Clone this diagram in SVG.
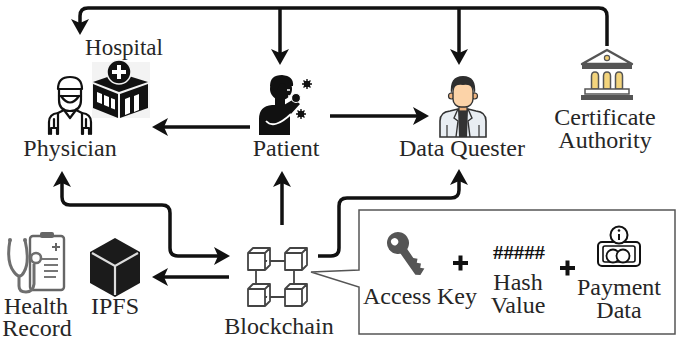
<svg xmlns="http://www.w3.org/2000/svg" width="677" height="340" viewBox="0 0 677 340">
  <defs>
    <marker id="head" viewBox="0 0 16 18" refX="8" refY="9" markerWidth="16" markerHeight="18" markerUnits="userSpaceOnUse" orient="auto-start-reverse">
      <path d="M0,0 L16,9 L0,18 L4,9 Z" fill="#111"/>
    </marker>
  </defs>
  <rect width="677" height="340" fill="#fff"/>

  <!-- connectors -->
  <g id="connectors" fill="none" stroke="#111" stroke-width="3.5" stroke-linejoin="round">
    <!-- certificate authority bus -->
    <path d="M607,46 V16 Q607,8 599,8 H88 Q80,8 80,16 V27" marker-end="url(#head)"/>
    <path d="M280,8 V57" marker-end="url(#head)"/>
    <path d="M459,8 V57" marker-end="url(#head)"/>
    <!-- patient outputs -->
    <path d="M250,127 H160" marker-end="url(#head)"/>
    <path d="M330,116 H421" marker-end="url(#head)"/>
    <!-- blockchain links -->
    <path d="M62,179 V197 Q62,205 70,205 H162 Q170,205 170,213 V248 Q170,256 178,256 H222" marker-start="url(#head)" marker-end="url(#head)"/>
    <path d="M229,277 H160" marker-end="url(#head)"/>
    <path d="M282,225 V179" marker-end="url(#head)"/>
    <path d="M318,256 H331 Q339,256 339,248 V206 Q339,198 347,198 H451 Q459,198 459,190 V177" marker-end="url(#head)"/>
  </g>

  <!-- callout with the stored transaction data -->
  <g id="callout">
    <path d="M359,210 H675 V334 H359 V287 L311,272 L359,270 Z" fill="#fff" stroke="#555" stroke-width="1.5"/>
  </g>

  <!-- hospital -->
  <g id="hospital">
    <rect x="92" y="62" width="58" height="56" fill="#f3f3f3"/>
    <path d="M93,82 L119,73 L148,82 L119,92 Z" fill="#111"/>
    <path d="M93,84 L118,94 V118 L93,108 Z" fill="#111"/>
    <path d="M120,94 L148,84 V108 L120,118 Z" fill="#111"/>
    <path d="M97,92 l5,2 v10 l-5,-2 Z M104,95 l5,2 v10 l-5,-2 Z M111,98 l4,1.5 v10 l-4,-1.5 Z" fill="#fff"/>
    <path d="M125,99 l5,-2 v16 l-5,2 Z M134,96 l5,-2 v16 l-5,2 Z" fill="#fff"/>
    <circle cx="119" cy="72" r="12" fill="#111" stroke="#f3f3f3" stroke-width="1.5"/>
    <path d="M119,65 V79 M112,72 H126" stroke="#fff" stroke-width="4"/>
    <text x="124" y="55" font-family="'Liberation Serif', serif" font-size="23" fill="#262626" text-anchor="middle">Hospital</text>
  </g>

  <!-- physician -->
  <g id="physician">
    <g fill="none" stroke="#111" stroke-width="2.2" stroke-linecap="round" stroke-linejoin="round">
      <path d="M58,89 Q58,77 70,77 Q82,77 82,89 Z"/>
      <path d="M59,89 V100 Q59,111 70,111 Q81,111 81,100 V89"/>
      <path d="M59,96 H81 M61,96 Q70,109 79,96"/>
      <path d="M49,134 V122 Q49,114 58,113 L64,110 M76,110 L82,113 Q91,114 91,122 V134"/>
      <path d="M64,110 L70,118 L76,110 M58,113 V134 M82,113 V134"/>
      <path d="M54,119 V127 M51,134 V128 H57 V134 M86,119 V127 M83,134 V128 H89 V134"/>
    </g>
    <text x="70" y="156" font-family="'Liberation Serif', serif" font-size="24" fill="#262626" text-anchor="middle">Physician</text>
  </g>

  <!-- patient -->
  <g id="patient">
    <circle cx="281" cy="89" r="11" fill="#111"/>
    <path d="M270,86 Q270,75 282,75 Q294,76 293,86 L286,86 Q284,82 280,84 L276,92 Z" fill="#111"/>
    <path d="M287,90 h3 M288,96 h3" stroke="#fff" stroke-width="1.3"/>
    <rect x="275" y="97" width="10" height="10" fill="#111"/>
    <path d="M259,135 V119 Q259,106 272,105 H284 L294,99 L300,104 L290,115 V135 Z" fill="#111"/>
    <path d="M266,121 Q274,130 291,114" fill="none" stroke="#fff" stroke-width="1.8"/>
    <circle cx="296" cy="98" r="4.5" fill="#111" stroke="#fff" stroke-width="1.2"/>
    <g fill="#111" stroke="#111" stroke-width="1.4">
      <circle cx="307" cy="84" r="2.6"/>
      <path d="M307,79 V89 M302,84 H312 M303.5,80.5 L310.5,87.5 M310.5,80.5 L303.5,87.5"/>
      <circle cx="301" cy="114" r="2.6"/>
      <path d="M301,109 V119 M296,114 H306 M297.5,110.5 L304.5,117.5 M304.5,110.5 L297.5,117.5"/>
    </g>
    <text x="286" y="156" font-family="'Liberation Serif', serif" font-size="24" fill="#262626" text-anchor="middle">Patient</text>
  </g>

  <!-- data quester -->
  <g id="data-quester">
    <path d="M440,137 V121 Q440,112 450,111 L458,109 H468 L476,111 Q486,112 486,121 V137 Z" fill="#e8edf2" stroke="#333" stroke-width="1.6"/>
    <path d="M458,109 H468 L467,137 H459 Z" fill="#333"/>
    <path d="M458,109 L454,118 L458,121 L456,137 M468,109 L472,118 L468,121 L470,137" fill="none" stroke="#333" stroke-width="1.4"/>
    <path d="M447,125 V137 M479,125 V137" stroke="#333" stroke-width="1.2"/>
    <rect x="459" y="103" width="8" height="8" fill="#efb47f" stroke="#333" stroke-width="1.2"/>
    <circle cx="451.5" cy="96" r="3" fill="#efb47f" stroke="#333" stroke-width="1.2"/>
    <circle cx="474.5" cy="96" r="3" fill="#efb47f" stroke="#333" stroke-width="1.2"/>
    <rect x="453" y="83" width="20" height="24" rx="8" fill="#fcd3a8" stroke="#333" stroke-width="1.4"/>
    <path d="M451,94 Q449,76 463,76 Q477,76 475,94 L473,88 Q470,84 463,85 Q456,84 453,88 Z" fill="#2e2e2e"/>
    <text x="462" y="156" font-family="'Liberation Serif', serif" font-size="24" fill="#262626" text-anchor="middle">Data Quester</text>
  </g>

  <!-- certificate authority -->
  <g id="certificate-authority">
    <path d="M582,64 L607,50 L632,64 Z" fill="#fff" stroke="#555" stroke-width="2.4" stroke-linejoin="round"/>
    <circle cx="607" cy="58" r="2.6" fill="#f2cf72" stroke="#555" stroke-width="1.2"/>
    <rect x="582" y="64" width="50" height="5" fill="#555"/>
    <g fill="#f3d47c" stroke="#555" stroke-width="1.5">
      <path d="M591.5,89 V76 Q591.5,72 595,72 Q598.5,72 598.5,76 V89 Z"/>
      <path d="M603.5,89 V76 Q603.5,72 607,72 Q610.5,72 610.5,76 V89 Z"/>
      <path d="M615.5,89 V76 Q615.5,72 619,72 Q622.5,72 622.5,76 V89 Z"/>
    </g>
    <rect x="585" y="89" width="44" height="5" fill="#fff" stroke="#555" stroke-width="1.5"/>
    <rect x="581" y="95" width="52" height="5" fill="#555"/>
    <text x="605" y="125" font-family="'Liberation Serif', serif" font-size="24" fill="#262626" text-anchor="middle">Certificate</text>
    <text x="605" y="148" font-family="'Liberation Serif', serif" font-size="24" fill="#262626" text-anchor="middle">Authority</text>
  </g>

  <!-- health record -->
  <g id="health-record">
    <rect x="30" y="236" width="34" height="54" rx="3" fill="#fff" stroke="#666" stroke-width="2.4"/>
    <rect x="40" y="232" width="14" height="6" rx="2" fill="#666"/>
    <path d="M56,243 v8 M52,247 h8" stroke="#666" stroke-width="2"/>
    <path d="M42,259 H58 M44,265 H58 M44,271 H58 M44,277 H56" stroke="#777" stroke-width="1.8"/>
    <path d="M10,240 Q6,262 14,272 Q20,280 24,272 Q30,262 25,240" fill="none" stroke="#6f6f6f" stroke-width="3"/>
    <path d="M19,276 V286 Q19,292 26,292 Q33,292 34,284 V264" fill="none" stroke="#6f6f6f" stroke-width="3"/>
    <circle cx="36" cy="258" r="5" fill="#fff" stroke="#6f6f6f" stroke-width="2.6"/>
    <circle cx="10" cy="240" r="2" fill="#6f6f6f"/>
    <circle cx="25" cy="240" r="2" fill="#6f6f6f"/>
    <text x="36" y="314" font-family="'Liberation Serif', serif" font-size="24" fill="#262626" text-anchor="middle">Health</text>
    <text x="37" y="336" font-family="'Liberation Serif', serif" font-size="24" fill="#262626" text-anchor="middle">Record</text>
  </g>

  <!-- IPFS -->
  <g id="ipfs">
    <path d="M115,238 L140,252 V283 L115,297 L90,283 V252 Z" fill="#1b1b1b"/>
    <path d="M92,253 L115,266 L138,253 M115,266 V295" fill="none" stroke="#ddd" stroke-width="2.2"/>
    <text x="115" y="314" font-family="'Liberation Serif', serif" font-size="24" fill="#262626" text-anchor="middle">IPFS</text>
  </g>

  <!-- blockchain -->
  <g id="blockchain">
    <path d="M265,261 H285 M265,297 H285 M256,270 V284 M294,270 V284" stroke="#444" stroke-width="1.8"/>
    <g fill="#fff" stroke="#444" stroke-width="1.8" stroke-linejoin="round">
      <path d="M248,253 h17 v17 h-17 Z M248,253 l5,-5 h17 l-5,5 M270,248 v17 l-5,5"/>
      <path d="M285,253 h17 v17 h-17 Z M285,253 l5,-5 h17 l-5,5 M307,248 v17 l-5,5"/>
      <path d="M248,289 h17 v17 h-17 Z M248,289 l5,-5 h17 l-5,5 M270,284 v17 l-5,5"/>
      <path d="M285,289 h17 v17 h-17 Z M285,289 l5,-5 h17 l-5,5 M307,284 v17 l-5,5"/>
    </g>
    <text x="279" y="334" font-family="'Liberation Serif', serif" font-size="24" fill="#262626" text-anchor="middle">Blockchain</text>
  </g>

  <!-- access key -->
  <g id="access-key">
    <g transform="translate(398,243) rotate(-35)" fill="#555">
      <path d="M-4,6 V36 L0,39 L7,36 L4,33 L7,30 L4,27 L7,24 L4,21 V6 Z"/>
      <circle cx="0" cy="0" r="11"/>
      <circle cx="-2" cy="-3" r="3.6" fill="#fff"/>
    </g>
    <text x="420" y="304" font-family="'Liberation Serif', serif" font-size="24" fill="#262626" text-anchor="middle">Access Key</text>
  </g>

  <path id="plus-1" d="M453,263 H468 M460.5,255.5 V270.5" stroke="#111" stroke-width="4"/>

  <!-- hash value -->
  <g id="hash-value">
    <text x="493" y="259" textLength="52" lengthAdjust="spacingAndGlyphs" font-family="'Liberation Serif', serif" font-size="18" font-weight="bold" fill="#111">#####</text>
    <text x="518" y="290" font-family="'Liberation Serif', serif" font-size="24" fill="#262626" text-anchor="middle">Hash</text>
    <text x="518" y="313" font-family="'Liberation Serif', serif" font-size="24" fill="#262626" text-anchor="middle">Value</text>
  </g>

  <path id="plus-2" d="M560,268 H575 M567.5,260.5 V275.5" stroke="#111" stroke-width="4"/>

  <!-- payment data -->
  <g id="payment-data">
    <rect x="598" y="242" width="42" height="24" rx="4" fill="#fff" stroke="#111" stroke-width="2"/>
    <rect x="603" y="246" width="32" height="16" rx="2" fill="none" stroke="#111" stroke-width="1.6"/>
    <circle cx="613" cy="256" r="6.5" fill="#fff" stroke="#111" stroke-width="1.8"/>
    <circle cx="623" cy="256" r="6.5" fill="#fff" stroke="#111" stroke-width="1.8"/>
    <circle cx="619" cy="235" r="8.5" fill="#fff" stroke="#111" stroke-width="2"/>
    <path d="M619,234 V240" stroke="#111" stroke-width="2"/>
    <circle cx="619" cy="230.5" r="1.3" fill="#111"/>
    <text x="619" y="295" font-family="'Liberation Serif', serif" font-size="24" fill="#262626" text-anchor="middle">Payment</text>
    <text x="619" y="318" font-family="'Liberation Serif', serif" font-size="24" fill="#262626" text-anchor="middle">Data</text>
  </g>
</svg>
